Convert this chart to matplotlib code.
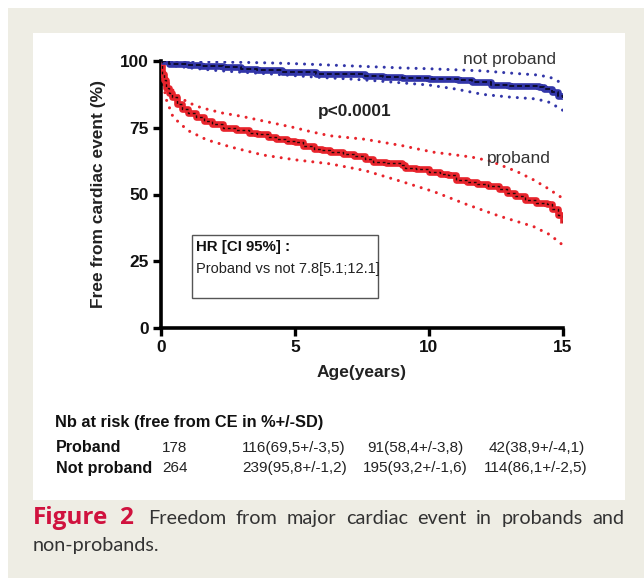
import matplotlib
matplotlib.use("Agg")
import matplotlib.pyplot as plt
from matplotlib.patches import Rectangle

# ---------------- data ----------------
proband_t = [0, 0.05, 0.1, 0.2, 0.3, 0.4, 0.6, 0.8, 1.0, 1.3, 1.6, 1.9, 2.3, 2.8, 3.3, 3.6,
             4.0, 4.3, 4.7, 5.0, 5.3, 5.7, 6.0, 6.3, 6.8, 7.2, 7.6, 7.9, 8.4, 9.0, 9.1, 9.5,
             10.0, 10.4, 10.7, 11.0, 11.4, 11.8, 12.2, 12.6, 12.9, 13.2, 13.6, 14.0, 14.4,
             14.6, 14.8, 15.0]
proband_s = [100, 95, 93, 90, 88, 86.5, 84, 82, 80.5, 79, 77.5, 76.3, 75, 74, 73.2, 72.5,
             71.5, 70.7, 70, 69.5, 68, 67, 66.5, 65.8, 65, 64.3, 63.3, 62.3, 61.8, 61, 60.1,
             59.5, 58.4, 57.8, 57.2, 55.5, 54.8, 53.8, 53.0, 51.9, 50.5, 49.4, 48.0, 47.0,
             46.5, 44.5, 42.5, 39.5]
proband_up_t = [0, 0.05, 0.2, 0.4, 0.7, 1.0, 1.5, 2.3, 3.0, 3.6, 4.3, 5.0, 5.6, 6.3, 7.0,
                7.6, 8.3, 9.0, 9.6, 10.2, 11.0, 11.6, 12.3, 12.8, 13.3, 13.9, 14.4, 15]
proband_up_v = [100, 97, 93, 89.5, 86.5, 84.5, 82.5, 80.5, 79.3, 78, 76.5, 75, 73.5, 72,
                71.3, 70.7, 69.5, 68.3, 67, 65.8, 64.8, 64, 62.5, 60.5, 58.5, 55.5, 52.5, 48.5]
proband_lo_t = [0, 0.05, 0.2, 0.45, 1.0, 1.7, 2.6, 3.8, 5.0, 6.3, 7.6, 9.0, 10.2, 11.4,
                12.6, 13.9, 14.5, 15]
proband_lo_v = [100, 93, 85.5, 79, 74, 70.5, 67.8, 64.8, 63, 61.5, 59, 54.8, 51, 46.3,
                42, 38, 35, 31]

notp_t = [0, 0.3, 1.0, 1.5, 2.3, 3.0, 3.6, 4.5, 5.0, 5.8, 6.5, 7.6, 8.3, 9.0, 10.0, 11.1,
          11.6, 12.3, 13.0, 14.1, 14.3, 14.6, 14.8, 15]
notp_s = [100, 99, 98.5, 98, 97.8, 97, 96.6, 96, 95.8, 95.3, 95, 94.3, 94, 93.5, 93.2, 92.9,
          92, 91, 90.6, 90.4, 89.5, 88.5, 87, 86]
notp_up_t = [0, 1, 2, 3, 4, 5, 6, 7, 8, 9, 10, 11, 12, 13, 14, 14.5, 15]
notp_up_v = [100, 99.8, 99.6, 99.5, 99.3, 99, 98.6, 98.2, 97.8, 97.4, 97.1, 96.7, 96.3,
             95.5, 94.8, 94, 91.5]
notp_lo_t = [0, 0.5, 1, 2, 3, 4, 5, 6, 7, 8, 9, 10, 11, 12, 13, 14, 14.5, 15]
notp_lo_v = [100, 98.2, 97.5, 96.5, 95.8, 95.2, 94.5, 93.8, 93.3, 92.6, 91.8, 91, 89.5,
             87.5, 86.5, 85.8, 84.5, 81.5]

x_ticks = [0, 5, 10, 15]
y_ticks = [0, 25, 50, 75, 100]

risk_header = "Nb at risk (free from CE in %+/-SD)"
risk_rows = ["Proband", "Not proband"]
risk_start = ["178", "264"]
risk_cells = [["116(69,5+/-3,5)", "91(58,4+/-3,8)", "42(38,9+/-4,1)"],
              ["239(95,8+/-1,2)", "195(93,2+/-1,6)", "114(86,1+/-2,5)"]]

caption_label = ["Figure", "2"]
caption_line1 = "Freedom from major cardiac event in probands and"
caption_line2 = "non-probands."

# ---------------- figure ----------------
W, H = 644, 578
fig = plt.figure(figsize=(W / 100, H / 100), dpi=100, facecolor="white")

def fx(px):
    return px / W

def fy(py):
    return 1 - py / H

beige = "#eeede4"
fig.patches.append(Rectangle((fx(8), 0), 1 - fx(8), fy(8), transform=fig.transFigure,
                             facecolor=beige, edgecolor="none", zorder=-10))
fig.patches.append(Rectangle((fx(33), fy(500)), fx(625) - fx(33), fy(33) - fy(500),
                             transform=fig.transFigure, facecolor="white",
                             edgecolor="none", zorder=-9))

ax = fig.add_axes([fx(161), fy(328), fx(563) - fx(161), fy(61) - fy(328)])
ax.set_facecolor("none")
ax.set_xlim(0, 15)
ax.set_ylim(0, 100)

red = "#e8242c"
blue = "#3236a8"
dot = (0, (0.01, 2.6))

# proband
ax.plot(proband_t, proband_s, drawstyle="steps-post", color=red, lw=4.8,
        solid_capstyle="butt", zorder=3)
ax.plot(proband_t, proband_s, drawstyle="steps-post", color="#200808", lw=1.0,
        ls=(0, (2, 2)), zorder=4)
ax.plot(proband_up_t, proband_up_v, color=red, lw=2.2, ls=dot, dash_capstyle="round",
        zorder=2)
ax.plot(proband_lo_t, proband_lo_v, color=red, lw=2.2, ls=dot, dash_capstyle="round",
        zorder=2)

# not proband
ax.plot(notp_t, notp_s, drawstyle="steps-post", color=blue, lw=4.8,
        solid_capstyle="butt", zorder=3)
ax.plot(notp_t, notp_s, drawstyle="steps-post", color="#0c0c30", lw=1.4,
        ls=(0, (2.5, 1.5)), zorder=4)
ax.plot(notp_up_t, notp_up_v, color=blue, lw=2.2, ls=dot, dash_capstyle="round", zorder=2)
ax.plot(notp_lo_t, notp_lo_v, color=blue, lw=2.2, ls=dot, dash_capstyle="round", zorder=2)

for s in ["top", "right"]:
    ax.spines[s].set_visible(False)
for s in ["left", "bottom"]:
    ax.spines[s].set_linewidth(2.6)
    ax.spines[s].set_color("black")
ax.set_xticks(x_ticks)
ax.set_yticks(y_ticks)
ax.tick_params(direction="out", length=6, width=2.4, colors="black", pad=3)
for lab in ax.get_xticklabels() + ax.get_yticklabels():
    lab.set_fontweight("bold")
    lab.set_fontsize(12.4)
    lab.set_family("Liberation Sans")
    lab.set_color("#111111")

ax.set_xlabel("Age(years)", fontsize=12.5, fontweight="bold", family="Liberation Sans",
              color="#222222", labelpad=7)
ax.set_ylabel("Free from cardiac event (%)", fontsize=12.5, fontweight="bold",
              family="Liberation Sans", color="#222222", labelpad=10)

ax.text(7.24, 81, "p<0.0001", fontsize=12.4, fontweight="bold", family="Liberation Sans",
        ha="center", va="center", color="#222222")
ax.text(13.0, 100.6, "not proband", fontsize=12.5, family="Liberation Sans", ha="center",
        va="center", color="#333333")
ax.text(13.36, 63.5, "proband", fontsize=12.5, family="Liberation Sans", ha="center",
        va="center", color="#333333")

ax.add_patch(Rectangle((1.16, 11.2), 8.1 - 1.16, 34.8 - 11.2, facecolor="white",
                       edgecolor="#555555", lw=1.0, zorder=5))
ax.text(1.32, 30.3, "HR [CI 95%] :", fontsize=10.8, fontweight="bold",
        family="Liberation Sans", ha="left", va="center", color="#111111", zorder=6)
ax.text(1.32, 22.0, "Proband vs not 7.8[5.1;12.1]", fontsize=10.5,
        family="Liberation Sans", ha="left", va="center", color="#222222", zorder=6)

# risk table
fig.text(fx(55), fy(423), risk_header, fontsize=11.8, fontweight="bold",
         family="Liberation Sans", ha="left", va="center", color="#111111")
row_y = [448, 468]
col_x = [[242, 367, 489], [242, 363, 484]]
for i, name in enumerate(risk_rows):
    fig.text(fx(56), fy(row_y[i]), name, fontsize=11.6, fontweight="bold",
             family="Liberation Sans", ha="left", va="center", color="#111111")
    fig.text(fx(162), fy(row_y[i]), risk_start[i], fontsize=11, family="Liberation Sans",
             ha="left", va="center", color="#222222")
    for j, cell in enumerate(risk_cells[i]):
        fig.text(fx(col_x[i][j]), fy(row_y[i]), cell, fontsize=11,
                 family="Liberation Sans", ha="left", va="center", color="#222222")

# caption
crimson = "#d0123e"
fig.text(fx(33), fy(524), caption_label[0], fontsize=17.5, fontweight="bold",
         family="Open Sans", ha="left", va="baseline", color=crimson)
fig.text(fx(119), fy(524), caption_label[1], fontsize=17.5, fontweight="bold",
         family="Open Sans", ha="left", va="baseline", color=crimson)

renderer = fig.canvas.get_renderer()
words = caption_line1.split()
objs = [fig.text(0, fy(524), w, fontsize=14.3, family="Lato", ha="left", va="baseline",
                 color="#333333") for w in words]
widths = [o.get_window_extent(renderer).width for o in objs]
left_px, right_px = 148, 624
gap = (right_px - left_px - sum(widths)) / (len(words) - 1)
xpos = left_px
for o, wdt in zip(objs, widths):
    o.set_x(fx(xpos))
    xpos += wdt + gap
fig.text(fx(33), fy(551), caption_line2, fontsize=14.3, family="Lato", ha="left",
         va="baseline", color="#333333")

fig.savefig("out.png", dpi=100, facecolor=fig.get_facecolor())
